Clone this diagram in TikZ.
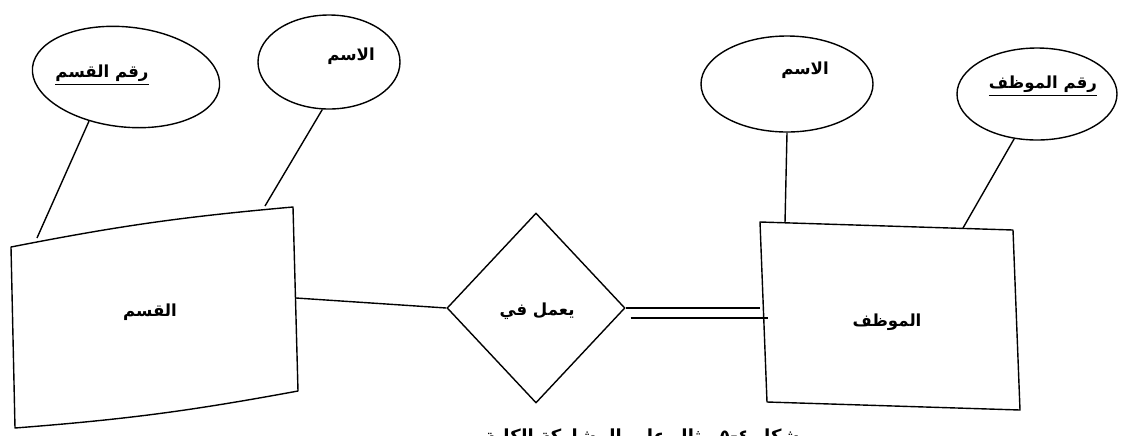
\documentclass[tikz,border=0pt]{standalone}
\usepackage{fontspec}
\usetikzlibrary{shapes.geometric}
\TeXXeTstate=1
\newfontfamily\arabicfont[Script=Arabic]{DejaVu Sans}
\newcommand{\ar}[1]{{\arabicfont\bfseries\beginR #1\endR}}
\begin{document}
\begin{tikzpicture}[x=0.5pt,y=-0.5pt,
  every node/.style={inner sep=0pt, font=\fontsize{8.3}{10}\selectfont},
  edge/.style={draw, line width=0.7pt, line join=round},
  attr/.style={ellipse, draw, line width=0.7pt},
  rel/.style={diamond, draw, line width=0.7pt, minimum width=89pt, minimum height=95pt}]
\useasboundingbox (0,0) rectangle (1125,435);
\clip (0,0) rectangle (1125,435);
\fill[white] (0,0) rectangle (1125,435);

% entity: department
\coordinate (dTL) at (11,247);
\coordinate (dTR) at (293,207);
\coordinate (dBR) at (298,391);
\coordinate (dBL) at (15,428);
\draw[edge] (dTL) to[bend left=3] (dTR) -- (dBR) to[bend left=3] (dBL) -- cycle;
\node (dept) at (150,312) {\ar{القسم}};

% entity: employee
\coordinate (eTL) at (760,222);
\coordinate (eTR) at (1013,230);
\coordinate (eBR) at (1020,410);
\coordinate (eBL) at (767,402);
\draw[edge] (eTL) -- (eTR) -- (eBR) -- (eBL) -- cycle;
\node (emp) at (887,322) {\ar{الموظف}};

% attributes of department
\node[attr, minimum width=94pt, minimum height=50pt, rotate=-6,
      label={[xshift=-12pt,yshift=1pt]center:\ar{\underline{\hbox{\beginR رقم القسم\endR}}}}] (dno) at (126,77) {};
\node[attr, minimum width=71pt, minimum height=47pt,
      label={[xshift=11pt,yshift=3pt]center:\ar{الاسم}}] (dname) at (329,62) {};

% attributes of employee
\node[attr, minimum width=86pt, minimum height=48pt,
      label={[xshift=9pt,yshift=7pt]center:\ar{الاسم}}] (ename) at (787,84) {};
\node[attr, minimum width=80pt, minimum height=46pt,
      label={[xshift=3pt,yshift=4pt]center:\ar{\underline{\hbox{\beginR رقم الموظف\endR}}}}] (eno) at (1037,94) {};

% attribute links
\coordinate (dnoA) at (37,238);
\coordinate (dnameA) at (265,206);
\coordinate (enameA) at (785,223);
\coordinate (enoA) at (963,228);
\draw[edge] (dno.236) -- (dnoA);
\draw[edge] (dname.262) -- (dnameA);
\draw[edge] (ename.270) -- (enameA);
\draw[edge] (eno.243) -- (enoA);

% relationship
\node[rel] (works) at (536,308) {};
\node at (537,311) {\ar{يعمل في}};

% partial participation (department) and total participation (employee)
\coordinate (dR) at (296,298);
\draw[edge] (dR) -- (works.west);
\coordinate (wR2) at ([shift={(5,10)}]works.east);
\draw[edge] (works.east) -- (works.east -| eTL);
\draw[edge] (wR2) -- ([xshift=4]wR2 -| eTL);

% figure caption, cut by the lower edge
\node[font=\fontsize{9}{11}\selectfont, anchor=base] (cap) at (642,442) {\ar{شكل ٤-٥ مثال على المشاركة الكلية}};
\end{tikzpicture}
\end{document}
